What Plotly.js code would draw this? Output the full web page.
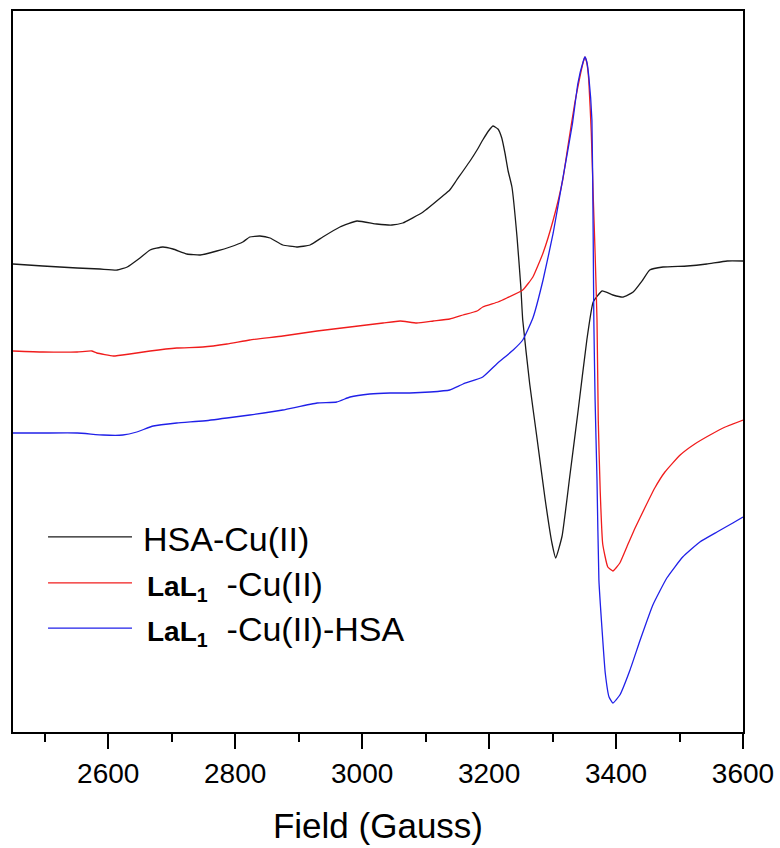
<!DOCTYPE html>
<html>
<head>
<meta charset="utf-8">
<script src="https://cdn.plot.ly/plotly-3.0.1.min.js"></script>
<style>
  html, body { margin: 0; padding: 0; background: #ffffff; }
  #chart { width: 780px; height: 848px; }
</style>
</head>
<body>
<div id="chart"></div>
<script>
// Field values (Gauss) and EPR intensities (arbitrary units)
const hsaField = [2450, 2497, 2551, 2587, 2614, 2630, 2650, 2666, 2686, 2702, 2724, 2745, 2771, 2792, 2812, 2823, 2839, 2855, 2875, 2897, 2918, 2938, 2965, 2992, 3023, 3047, 3064, 3096, 3127, 3138, 3149, 3170, 3181, 3190, 3199, 3206, 3214, 3220, 3225, 3230, 3236, 3244, 3250, 3253, 3264, 3275, 3288, 3299, 3305, 3315, 3327, 3340, 3354, 3364, 3378, 3395, 3411, 3427, 3442, 3453, 3474, 3512, 3543, 3575, 3600];
const hsaInt = [108, 106, 104, 103, 102, 105, 114, 122, 125, 123, 118, 117, 121, 125, 130, 135, 136, 134, 127, 125, 127, 135, 145, 151, 148, 147, 149, 160, 176, 182, 192, 211, 222, 232, 241, 246, 243, 234, 219, 201, 185, 135, 85, 52, -12, -64, -126, -171, -186, -164, -105, -40, 32, 70, 81, 77, 75, 80, 92, 102, 105, 106, 108, 111, 111];

const lalField = [2450, 2497, 2551, 2574, 2582, 2608, 2634, 2666, 2708, 2749, 2787, 2823, 2875, 2929, 2981, 3033, 3060, 3086, 3112, 3138, 3159, 3181, 3190, 3214, 3228, 3253, 3269, 3285, 3301, 3316, 3324, 3335, 3343, 3348, 3351, 3354, 3357, 3361, 3364, 3367, 3370, 3372, 3375, 3379, 3387, 3395, 3406, 3417, 3430, 3446, 3461, 3477, 3501, 3524, 3548, 3572, 3600];
const lalInt = [21, 20, 20, 21, 19, 16, 18, 21, 24, 25, 28, 32, 36, 41, 45, 49, 51, 49, 51, 53, 57, 61, 65, 70, 74, 82, 95, 119, 152, 192, 225, 269, 295, 309, 315, 309, 292, 239, 177, 119, 52, -48, -118, -172, -195, -199, -191, -175, -156, -135, -116, -100, -83, -72, -63, -55, -48];

const lalHsaField = [2450, 2497, 2551, 2592, 2623, 2645, 2671, 2708, 2749, 2787, 2823, 2875, 2929, 2960, 2981, 3012, 3044, 3075, 3107, 3138, 3159, 3190, 3212, 3238, 3253, 3269, 3285, 3301, 3316, 3331, 3340, 3348, 3351, 3354, 3357, 3362, 3364, 3365, 3367, 3370, 3373, 3378, 3383, 3389, 3395, 3406, 3422, 3438, 3458, 3480, 3505, 3532, 3559, 3584, 3600];
const lalHsaInt = [-61, -61, -61, -63, -63, -60, -54, -51, -49, -46, -43, -38, -31, -30, -25, -22, -21, -21, -20, -18, -12, -5, 8, 22, 32, 54, 92, 139, 193, 247, 289, 310, 315, 310, 296, 252, 135, 52, -28, -108, -208, -258, -301, -325, -331, -323, -298, -268, -233, -206, -185, -170, -160, -151, -145];

const seriesNames = ["HSA-Cu(II)", "LaL1-Cu(II)", "LaL1-Cu(II)-HSA"];
const seriesColors = ["#1a1a1a", "#f01c1c", "#2020e8"];
const legendLabels = [
  "HSA-Cu(II)",
  "<b><span style=\"font-size:28px\">LaL<sub>1</sub></span></b>  -Cu(II)",
  "<b><span style=\"font-size:28px\">LaL<sub>1</sub></span></b>  -Cu(II)-HSA"
];
const xTickVals = [2600, 2800, 3000, 3200, 3400, 3600];

const FONT = "Liberation Sans, Arial, sans-serif";

const traces = [
  {x: hsaField, y: hsaInt},
  {x: lalField, y: lalInt},
  {x: lalHsaField, y: lalHsaInt}
].map((d, i) => ({
  x: d.x, y: d.y, type: "scatter", mode: "lines", name: seriesNames[i],
  line: {color: seriesColors[i], width: 1.3, shape: "spline", smoothing: 0.4}, showlegend: false, hoverinfo: "skip"
}));

// custom legend (long sample lines as in the figure)
const legY = [0.2705, 0.2067, 0.1442];
const shapes = legY.map((y, i) => ({
  type: "line", xref: "paper", yref: "paper", x0: 0.048, x1: 0.163, y0: y, y1: y,
  line: {color: seriesColors[i], width: 1.3}
}));
const annotations = legY.map((y, i) => ({
  xref: "paper", yref: "paper", x: i === 0 ? 0.176 : 0.181, y: y - 0.003,
  xanchor: "left", yanchor: "middle", showarrow: false, text: legendLabels[i],
  font: {family: FONT, size: 34, color: "#000"}
}));

const layout = {
  width: 780, height: 848,
  margin: {l: 13, r: 37, t: 11, b: 116},
  paper_bgcolor: "#ffffff", plot_bgcolor: "#ffffff",
  font: {family: FONT, color: "#000"},
  xaxis: {
    range: [2450, 3600], tickvals: xTickVals, ticktext: xTickVals.map(String),
    ticks: "outside", ticklen: 15, tickwidth: 2, tickcolor: "#000",
    minor: {tickvals: [2500, 2700, 2900, 3100, 3300, 3500], ticks: "outside", ticklen: 8, tickwidth: 2, tickcolor: "#000"},
    showline: true, linecolor: "#000", linewidth: 2, mirror: true,
    showgrid: false, zeroline: false,
    tickfont: {family: FONT, size: 28, color: "#000"},
    title: {text: "Field (Gauss)", font: {family: FONT, size: 35, color: "#000"}, standoff: 26}
  },
  yaxis: {
    range: [-360, 361], showticklabels: false, ticks: "",
    showline: true, linecolor: "#000", linewidth: 2, mirror: true,
    showgrid: false, zeroline: false
  },
  shapes: shapes,
  annotations: annotations
};

Plotly.newPlot("chart", traces, layout, {displayModeBar: false, staticPlot: true});
</script>
</body>
</html>
